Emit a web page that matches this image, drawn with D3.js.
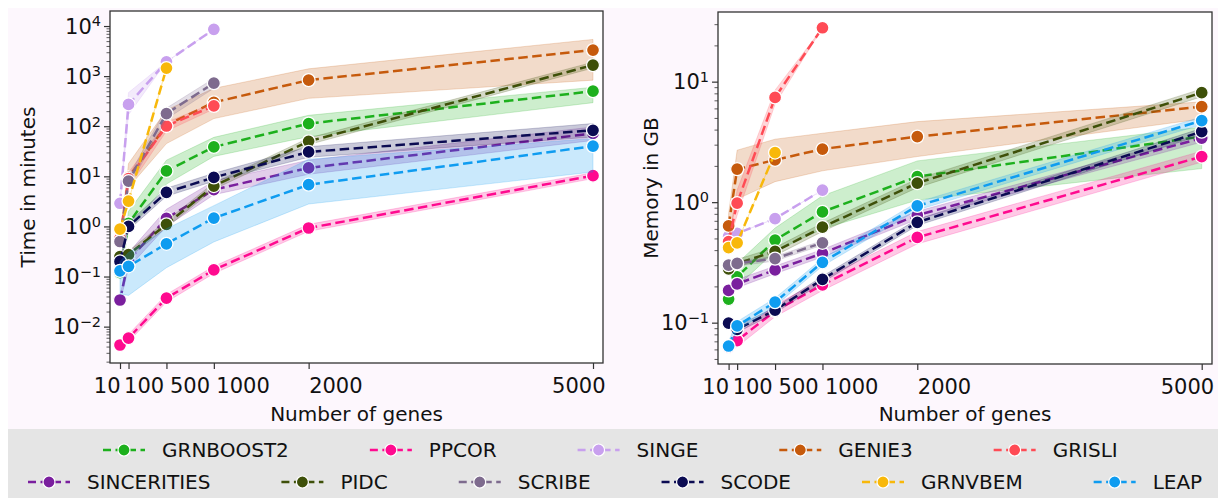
<!DOCTYPE html>
<html>
<head>
<meta charset="utf-8">
<script src="https://cdn.jsdelivr.net/npm/d3@7"></script>
<style>
body { margin: 0; background: #fff; }
svg { display: block; font-family: "DejaVu Sans", sans-serif; }
</style>
</head>
<body>
<script>
// genes on the x axis, one value per method and gene size
const genes = [10, 100, 500, 1000, 2000, 5000];
const methods = ["GRNBOOST2", "PPCOR", "SINGE", "GENIE3", "GRISLI",
                 "SINCERITIES", "PIDC", "SCRIBE", "SCODE", "GRNVBEM", "LEAP"];
const colors = ["#1db01d", "#ff0a8f", "#c8a0ee", "#c65a0c", "#ff4b55",
                "#7a1f9e", "#3e5009", "#7e6b8e", "#0b0b52", "#f8b80a", "#0f9cf0"];

// time in minutes (mean, lower and upper band)
const timeMean = [
  [0.12, 1.15, 12.8, 38.6, 113, 501],
  [0.0043, 0.0059, 0.037, 0.136, 0.93, 10.3],
  [2.9, 272, 1935, 8580, null, null],
  [0.5, 9.5, 105, 300, 832, 3311],
  [0.58, 9, 101, 255, null, null],
  [0.034, 0.21, 1.45, 5.4, 14.7, 72],
  [0.25, 0.275, 1.1, 6.4, 50, 1660],
  [0.5, 8, 179, 724, null, null],
  [0.2, 1.0, 4.8, 9.5, 30.7, 83],
  [0.88, 3.2, 1445, null, null, null],
  [0.13, 0.16, 0.45, 1.47, 6.8, 40]
];
const timeLo = [
  [0.1, 0.8, 7, 25, 62, 295],
  [0.0037, 0.005, 0.031, 0.115, 0.8, 9],
  [2.9, 170, 1935, 8580, null, null],
  [0.4, 6, 45, 142, 360, 830],
  [0.5, 6, 80, 220, null, null],
  [0.03, 0.15, 1.0, 4.3, 11, 52],
  [0.22, 0.24, 0.95, 5.5, 43, 1450],
  [0.45, 6, 140, 570, null, null],
  [0.18, 0.85, 4, 8, 24, 61],
  [0.88, 3.2, 1445, null, null, null],
  [0.045, 0.042, 0.15, 0.49, 2.8, 12.2]
];
const timeHi = [
  [0.14, 2.0, 21, 60, 165, 600],
  [0.005, 0.007, 0.044, 0.16, 1.1, 11.8],
  [2.9, 470, 1935, 8580, null, null],
  [0.6, 18, 210, 570, 1400, 5400],
  [0.65, 12, 120, 290, null, null],
  [0.04, 0.3, 2.2, 8, 21, 97],
  [0.28, 0.32, 1.3, 7.4, 58, 1900],
  [0.55, 10, 230, 900, null, null],
  [0.22, 1.2, 5.8, 11.5, 39, 113],
  [0.88, 3.2, 1445, null, null, null],
  [0.2, 0.3, 0.9, 2.6, 22, 57]
];

// memory in GB (mean, lower and upper band)
const memMean = [
  [0.157, 0.24, 0.485, 0.83, 1.63, 3.5],
  [0.063, 0.071, 0.125, 0.206, 0.51, 2.39],
  [0.52, 0.55, 0.73, 1.26, null, null],
  [0.635, 1.88, 2.24, 2.76, 3.5, 6.2],
  [0.47, 0.98, 7.4, 28, null, null],
  [0.185, 0.21, 0.274, 0.376, 0.78, 3.4],
  [0.28, 0.31, 0.39, 0.62, 1.44, 8.1],
  [0.3, 0.31, 0.34, 0.46, null, null],
  [0.099, 0.088, 0.127, 0.229, 0.68, 3.85],
  [0.42, 0.46, 2.58, null, null, null],
  [0.064, 0.094, 0.148, 0.317, 0.93, 4.75]
];
const memLo = [
  [0.15, 0.2, 0.39, 0.6, 1.04, 1.9],
  [0.056, 0.063, 0.112, 0.185, 0.45, 2.15],
  [0.52, 0.55, 0.73, 1.26, null, null],
  [0.5, 1.06, 1.48, 1.82, 2.39, 4.9],
  [0.45, 0.78, 6.5, 28, null, null],
  [0.172, 0.195, 0.255, 0.35, 0.72, 3.15],
  [0.26, 0.29, 0.36, 0.57, 1.32, 7.5],
  [0.29, 0.295, 0.325, 0.44, null, null],
  [0.093, 0.083, 0.12, 0.216, 0.64, 3.6],
  [0.42, 0.46, 2.58, null, null, null],
  [0.059, 0.086, 0.137, 0.295, 0.86, 4.4]
];
const memHi = [
  [0.165, 0.31, 0.61, 1.13, 2.2, 4.2],
  [0.071, 0.08, 0.14, 0.23, 0.57, 2.65],
  [0.52, 0.55, 0.73, 1.26, null, null],
  [0.8, 2.7, 3.33, 3.73, 4.66, 6.8],
  [0.5, 1.26, 8.5, 28, null, null],
  [0.2, 0.228, 0.295, 0.405, 0.84, 3.65],
  [0.3, 0.335, 0.42, 0.67, 1.56, 8.7],
  [0.31, 0.325, 0.355, 0.48, null, null],
  [0.105, 0.094, 0.134, 0.243, 0.72, 4.1],
  [0.42, 0.46, 2.58, null, null, null],
  [0.07, 0.102, 0.16, 0.34, 1.0, 5.1]
];

const W = 1218, H = 498;
const svg = d3.select("body").append("svg").attr("width", W).attr("height", H);

// figure background + legend box
svg.append("rect").attr("x", 8).attr("y", 8).attr("width", W - 8).attr("height", 421).attr("fill", "#fdf7fd");
svg.append("rect").attr("x", 8).attr("y", 429).attr("width", W - 8).attr("height", H - 429).attr("fill", "#e5e5e5");

function drawPanel(p) {
  const x = d3.scaleLinear().domain(p.xDom).range([p.x0, p.x1]);
  const y = d3.scaleLog().domain(p.yDom).range([p.y1, p.y0]);
  const g = svg.append("g");

  g.append("rect").attr("x", p.x0).attr("y", p.y0)
    .attr("width", p.x1 - p.x0).attr("height", p.y1 - p.y0).attr("fill", "#fff");

  const clipId = "clip" + p.x0;
  g.append("clipPath").attr("id", clipId).append("rect")
    .attr("x", p.x0).attr("y", p.y0).attr("width", p.x1 - p.x0).attr("height", p.y1 - p.y0);
  const plot = g.append("g").attr("clip-path", "url(#" + clipId + ")");

  const area = d3.area()
    .defined(d => d.lo != null)
    .x(d => x(d.g)).y0(d => y(d.lo)).y1(d => y(d.hi));
  const line = d3.line()
    .defined(d => d.v != null)
    .x(d => x(d.g)).y(d => y(d.v));

  methods.forEach((m, i) => {
    const rows = genes.map((gn, j) => ({ g: gn, v: p.mean[i][j], lo: p.lo[i][j], hi: p.hi[i][j] }));
    plot.append("path").datum(rows)
      .attr("d", area)
      .attr("fill", colors[i]).attr("fill-opacity", 0.22)
      .attr("stroke", colors[i]).attr("stroke-opacity", 0.2).attr("stroke-width", 1);
    plot.append("path").datum(rows)
      .attr("d", line)
      .attr("fill", "none").attr("stroke", colors[i])
      .attr("stroke-width", 2.5).attr("stroke-dasharray", "9.5,4.5");
    plot.selectAll(null).data(rows.filter(d => d.v != null)).enter()
      .append("circle")
      .attr("cx", d => x(d.g)).attr("cy", d => y(d.v)).attr("r", 6.5)
      .attr("fill", colors[i]).attr("stroke", "#fff").attr("stroke-width", 1.3);
  });

  // y axis: major and minor log ticks
  const lo = Math.ceil(Math.log10(p.yDom[0])), hi = Math.floor(Math.log10(p.yDom[1]));
  const majors = d3.range(lo, hi + 1).map(k => Math.pow(10, k));
  const minors = [];
  for (let k = lo - 1; k <= hi; k++) {
    for (let s = 2; s <= 9; s++) {
      const v = s * Math.pow(10, k);
      if (v >= p.yDom[0] && v <= p.yDom[1]) minors.push(v);
    }
  }
  const yMajor = g.append("g").attr("transform", `translate(${p.x0},0)`)
    .call(d3.axisLeft(y).tickValues(majors).tickSize(6).tickFormat(""));
  const yMinor = g.append("g").attr("transform", `translate(${p.x0},0)`)
    .call(d3.axisLeft(y).tickValues(minors).tickSize(3.5).tickFormat(""));
  [yMajor, yMinor].forEach(a => {
    a.select(".domain").remove();
    a.selectAll("line").attr("stroke", "#333");
  });
  yMinor.selectAll("line").attr("stroke-width", 0.8);
  yMajor.selectAll("line").attr("stroke-width", 1.2);

  majors.forEach(v => {
    const k = Math.round(Math.log10(v));
    const t = g.append("text")
      .attr("x", p.x0 - 9).attr("y", y(v)).attr("dy", "0.36em")
      .attr("text-anchor", "end").attr("font-size", 21).attr("fill", "#111");
    t.append("tspan").text("10");
    t.append("tspan").attr("dy", "-0.5em").attr("font-size", 14.5)
      .text(k < 0 ? "\u2212" + (-k) : String(k));
  });

  // x axis
  const anchors = ["end", "start", "start", "start", "start", "end"];
  const dxs = [0, -5, 3, 2, 0, 12];
  const xa = g.append("g").attr("transform", `translate(0,${p.y1})`)
    .call(d3.axisBottom(x).tickValues(genes).tickSize(6).tickPadding(9).tickFormat(d3.format("d")));
  xa.select(".domain").remove();
  xa.selectAll("line").attr("stroke", "#333").attr("stroke-width", 1.2);
  xa.selectAll("text")
    .attr("font-size", 21).attr("fill", "#111")
    .attr("font-family", "DejaVu Sans, sans-serif")
    .attr("text-anchor", (d, i) => anchors[i])
    .attr("dx", (d, i) => dxs[i]);

  // frame
  g.append("rect").attr("x", p.x0).attr("y", p.y0)
    .attr("width", p.x1 - p.x0).attr("height", p.y1 - p.y0)
    .attr("fill", "none").attr("stroke", "#333").attr("stroke-width", 1.3);

  // titles
  g.append("text").attr("x", (p.x0 + p.x1) / 2).attr("y", 421)
    .attr("text-anchor", "middle").attr("font-size", 20).attr("fill", "#111")
    .text("Number of genes");
  g.append("text")
    .attr("transform", `translate(${p.titleX},${(p.y0 + p.y1) / 2}) rotate(-90)`)
    .attr("text-anchor", "middle").attr("font-size", 20).attr("fill", "#111")
    .text(p.title);
}

drawPanel({
  x0: 110, x1: 603, y0: 11, y1: 363,
  xDom: [-95.5, 5105.5], yDom: [Math.pow(10, -2.726), Math.pow(10, 4.3)],
  mean: timeMean, lo: timeLo, hi: timeHi,
  title: "Time in minutes", titleX: 35
});
drawPanel({
  x0: 718, x1: 1212, y0: 12, y1: 364,
  xDom: [-101.8, 5108.6], yDom: [Math.pow(10, -1.343), Math.pow(10, 1.578)],
  mean: memMean, lo: memLo, hi: memHi,
  title: "Memory in GB", titleX: 658
});

// legend: two rows, each with its own start and spacing
const legRows = [methods.slice(0, 5), methods.slice(5)];
const rowY = [450, 482];
const rowStart = [103, 28];
const rowGap = [81, 71];
const handleW = 42, textGap = 17;
const leg = svg.append("g");

legRows.forEach((row, r) => {
  let cx = rowStart[r];
  row.forEach(m => {
    const c = colors[methods.indexOf(m)];
    leg.append("line")
      .attr("x1", cx).attr("x2", cx + handleW).attr("y1", rowY[r]).attr("y2", rowY[r])
      .attr("stroke", c).attr("stroke-width", 2.5).attr("stroke-dasharray", "8,4.5");
    leg.append("circle").attr("cx", cx + handleW / 2).attr("cy", rowY[r]).attr("r", 6)
      .attr("fill", c).attr("stroke", "#fff").attr("stroke-width", 1.2);
    const t = leg.append("text").attr("font-size", 20).attr("fill", "#111")
      .attr("x", cx + handleW + textGap).attr("y", rowY[r]).attr("dy", "0.36em").text(m);
    cx += handleW + textGap + t.node().getComputedTextLength() + rowGap[r];
  });
});
</script>
</body>
</html>
